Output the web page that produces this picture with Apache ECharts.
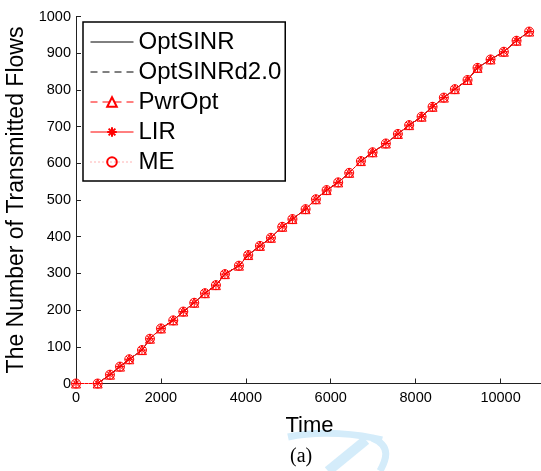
<!DOCTYPE html>
<html>
<head>
<meta charset="utf-8">
<script src="https://cdn.jsdelivr.net/npm/echarts@6/dist/echarts.min.js"></script>
<style>
  html, body { margin: 0; padding: 0; background: #fff; }
  #chart { width: 541px; height: 471px; }
</style>
</head>
<body>
<div id="chart"></div>
<script>
// Time stamps at which the flow counter was sampled
const times = [0, 511, 800, 1036, 1255, 1554, 1742, 2001, 2291, 2527,
  2785, 3037, 3296, 3508, 3838, 4057, 4332, 4591, 4858, 5098,
  5408, 5651, 5903, 6176, 6435, 6711, 6986, 7299, 7582, 7848,
  8140, 8399, 8665, 8924, 9223, 9458, 9765, 10078, 10377, 10674];

// Cumulative number of transmitted flows (all schemes coincide)
const flows = [0, 0, 24, 46, 66, 91, 122, 150, 172, 196,
  220, 246, 268, 298, 321, 350, 375, 397, 427, 448,
  475, 502, 527, 548, 574, 606, 630, 654, 680, 704,
  727, 754, 779, 802, 827, 860, 883, 904, 934, 959];

const schemeNames = ['OptSINR', 'OptSINRd2.0', 'PwrOpt', 'LIR', 'ME'];

const FONT = '"Liberation Sans", Arial, Helvetica, sans-serif';
const RED = '#ff0000';
const NONE = 'rgba(0,0,0,0)';
const ASTERISK = 'path://M5,0L5,10M0,5L10,5M1.5,1.5L8.5,8.5M8.5,1.5L1.5,8.5';

const points = times.map((t, i) => [t, flows[i]]);

// line colour, dash pattern and marker of each scheme
const styles = [
  { color: '#000', type: 'solid', symbol: 'circle', marker: false },
  { color: '#000', type: [7, 5], symbol: 'circle', marker: false },
  { color: RED, type: [7, 5], symbol: 'triangle', marker: true },
  { color: RED, type: 'solid', symbol: ASTERISK, marker: true },
  { color: '#ff6666', type: [1, 3], symbol: 'circle', marker: true }
];

const series = schemeNames.map((name, k) => ({
  name: name,
  type: 'line',
  data: points,
  symbol: styles[k].symbol,
  symbolSize: 9,
  showSymbol: styles[k].marker,
  animation: false,
  lineStyle: { color: styles[k].color, width: 1, type: styles[k].type },
  itemStyle: {
    color: NONE,
    borderColor: styles[k].marker ? RED : NONE,
    borderWidth: 1
  },
  emphasis: { disabled: true }
}));

const chart = echarts.init(document.getElementById('chart'), null, { renderer: 'canvas' });

chart.setOption({
  backgroundColor: '#fff',
  animation: false,
  grid: { left: 76, right: -2, top: 16.5, bottom: 87.5, containLabel: false, outerBoundsMode: 'none' },
  xAxis: {
    type: 'value',
    min: 0, max: 11000, interval: 2000,
    name: 'Time',
    nameLocation: 'middle',
    nameGap: 31,
    nameTextStyle: { fontFamily: FONT, fontSize: 22, color: '#000' },
    axisLine: { lineStyle: { color: '#222', width: 1 } },
    axisTick: { inside: true, length: 5, lineStyle: { color: '#222' } },
    axisLabel: { fontFamily: FONT, fontSize: 14.5, color: '#000', margin: 7, showMaxLabel: false,
      formatter: v => String(v) },
    splitLine: { show: false }
  },
  yAxis: {
    type: 'value',
    min: 0, max: 1000, interval: 100,
    name: 'The Number of Transmitted Flows',
    nameLocation: 'middle',
    nameGap: 43,
    nameTextStyle: { fontFamily: FONT, fontSize: 23, color: '#000' },
    axisLine: { show: true, lineStyle: { color: '#222', width: 1 } },
    axisTick: { show: true, inside: true, length: 5, lineStyle: { color: '#222' } },
    axisLabel: { fontFamily: FONT, fontSize: 14.5, color: '#000', margin: 5,
      formatter: v => String(v) },
    splitLine: { show: false }
  },
  legend: {
    orient: 'vertical',
    left: 83, top: 22,
    padding: [8, 4, 7, 7],
    itemWidth: 43, itemHeight: 12, itemGap: 6,
    borderColor: '#000', borderWidth: 1.5,
    backgroundColor: '#fff',
    lineStyle: { width: 1 },
    textStyle: { fontFamily: FONT, fontSize: 24, color: '#000' },
    selectedMode: false,
    data: schemeNames
  },
  graphic: [
    // faint light-blue brush stroke near the caption
    {
      type: 'bezierCurve', z: -1, silent: true,
      shape: { x1: 288, y1: 437, x2: 382, y2: 440, cpx1: 320, cpy1: 430, cpx2: 360, cpy2: 434 },
      style: { stroke: '#d4ecfa', lineWidth: 7, fill: null }
    },
    {
      type: 'bezierCurve', z: -1, silent: true,
      shape: { x1: 372, y1: 438, x2: 380, y2: 471, cpx1: 392, cpy1: 446, cpx2: 386, cpy2: 460 },
      style: { stroke: '#d4ecfa', lineWidth: 7, fill: null }
    },
    {
      type: 'line', z: -1, silent: true,
      shape: { x1: 328, y1: 471, x2: 366, y2: 440 },
      style: { stroke: '#d4ecfa', lineWidth: 10 }
    },
    {
      type: 'text', left: 290, top: 447,
      style: { text: '(a)', font: '20px "Liberation Serif", "Times New Roman", serif', fill: '#000' }
    }
  ],
  series: series
});
</script>
</body>
</html>
